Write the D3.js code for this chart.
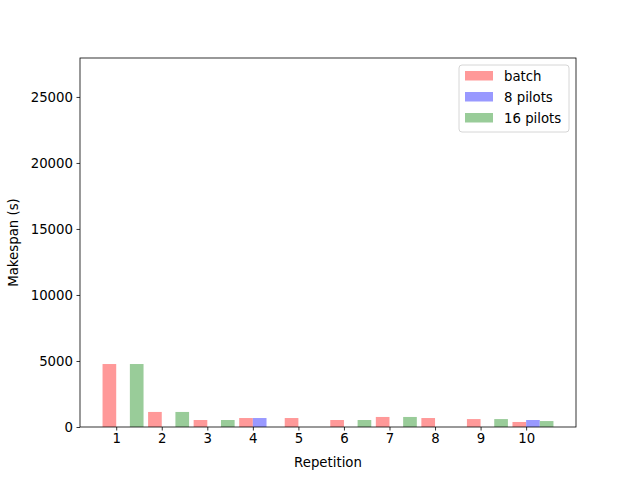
<!DOCTYPE html>
<html>
<head>
<meta charset="utf-8">
<script src="https://cdn.jsdelivr.net/npm/d3@7"></script>
<style>
  body { margin: 0; background: #fff; }
  text { font-family: "DejaVu Sans", sans-serif; fill: #000; }
</style>
</head>
<body>
<script>
// repetitions on the x axis
const repetitions = [1, 2, 3, 4, 5, 6, 7, 8, 9, 10]
// makespan per repetition, null = no bar
const batch = [4770, 1140, 530, 680, 680, 530, 760, 680, 600, 380]
const pilots8 = [null, null, null, 680, null, null, null, null, null, 530]
const pilots16 = [4770, 1140, 530, null, null, 530, 760, null, 600, 450]
const yTicks = [0, 5000, 10000, 15000, 20000, 25000]

const series = [
  {name: "batch", values: batch, color: "#ff9999", offset: -0.3},
  {name: "8 pilots", values: pilots8, color: "#9999ff", offset: 0},
  {name: "16 pilots", values: pilots16, color: "#99cc99", offset: 0.3}
]
const barWidth = 0.3

const W = 640, H = 480
const mLeft = 80, mRight = 576, mTop = 58, mBottom = 427

let svg = d3.select("body").append("svg")
  .attr("width", W)
  .attr("height", H)

let x = d3.scaleLinear().domain([0.205, 11.095]).range([mLeft, mRight])
let y = d3.scaleLinear().domain([0, 27950]).range([mBottom, mTop])

// bars
for (let s of series) {
  let data = repetitions.map((r, i) => ({r: r, v: s.values[i]})).filter(d => d.v != null)
  svg.append("g").selectAll("rect")
    .data(data)
    .enter()
    .append("rect")
    .attr("x", d => x(d.r + s.offset))
    .attr("width", d => x(d.r + s.offset + barWidth) - x(d.r + s.offset))
    .attr("y", d => y(d.v))
    .attr("height", d => y(0) - y(d.v))
    .attr("fill", s.color)
}

// axes
let xAxis = svg.append("g")
  .attr("transform", `translate(0,${mBottom})`)
  .call(d3.axisBottom(x).tickValues(repetitions).tickSize(3.5).tickPadding(3.5).tickSizeOuter(0))
let yAxis = svg.append("g")
  .attr("transform", `translate(${mLeft},0)`)
  .call(d3.axisLeft(y).tickValues(yTicks).tickFormat(d3.format("d")).tickSize(3.5).tickPadding(3.5).tickSizeOuter(0))

for (let ax of [xAxis, yAxis]) {
  ax.select(".domain").remove()
  ax.selectAll("text").style("font-size", "13.3px").style("font-family", "DejaVu Sans")
  ax.selectAll("line").attr("stroke", "#000").attr("stroke-width", 0.8)
}

// frame
svg.append("rect")
  .attr("x", mLeft).attr("y", mTop)
  .attr("width", mRight - mLeft).attr("height", mBottom - mTop)
  .attr("fill", "none").attr("stroke", "#000").attr("stroke-width", 0.8)

// axis labels
svg.append("text")
  .attr("x", (mLeft + mRight) / 2).attr("y", 467)
  .attr("text-anchor", "middle")
  .style("font-size", "13.3px")
  .text("Repetition")
svg.append("text")
  .attr("transform", `translate(18,${(mTop + mBottom) / 2}) rotate(-90)`)
  .attr("text-anchor", "middle")
  .style("font-size", "13.3px")
  .text("Makespan (s)")

// legend
let legend = svg.append("g").attr("transform", "translate(459,65)")
legend.append("rect")
  .attr("width", 110).attr("height", 67).attr("rx", 3)
  .attr("fill", "#fff").attr("fill-opacity", 0.8)
  .attr("stroke", "#cccccc").attr("stroke-width", 0.8)
let items = legend.selectAll("g.item")
  .data(series)
  .enter()
  .append("g")
  .attr("class", "item")
  .attr("transform", (d, i) => `translate(6,${6 + i * 21})`)
items.append("rect")
  .attr("width", 28).attr("height", 9.5)
  .attr("fill", d => d.color)
items.append("text")
  .attr("x", 39).attr("y", 10)
  .style("font-size", "13.3px")
  .text(d => d.name)
</script>
</body>
</html>
